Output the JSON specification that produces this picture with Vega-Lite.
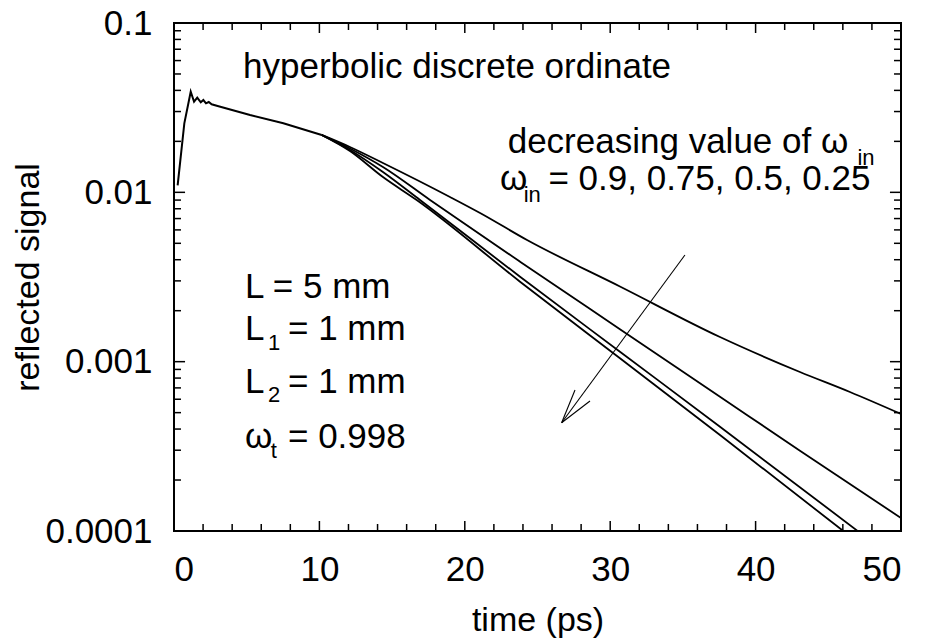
{
  "$schema": "https://vega.github.io/schema/vega-lite/v6.json",
  "width": 727,
  "height": 508,
  "autosize": {"type": "none"},
  "padding": {"left": 174, "top": 23, "right": 24, "bottom": 110},
  "background": "white",
  "config": {
    "view": {"stroke": "black", "strokeWidth": 2},
    "font": "Liberation Sans",
    "axis": {"domain": false, "grid": false, "labelColor": "black", "titleColor": "black", "labelFont": "Liberation Sans", "titleFont": "Liberation Sans", "labelFontSize": 35, "titleFontSize": 34, "titleFontWeight": "normal"}
  },
  "datasets": {
    "early": [
      {"t": 0.25, "v": 0.011},
      {"t": 0.71, "v": 0.02557},
      {"t": 1.15, "v": 0.03929},
      {"t": 1.38, "v": 0.03428},
      {"t": 1.60, "v": 0.03622},
      {"t": 1.84, "v": 0.03400},
      {"t": 2.02, "v": 0.03509},
      {"t": 2.20, "v": 0.03355},
      {"t": 2.39, "v": 0.03414},
      {"t": 2.59, "v": 0.03310},
      {"t": 3.0, "v": 0.03235},
      {"t": 5.23, "v": 0.02862},
      {"t": 7.52, "v": 0.02557},
      {"t": 10.16, "v": 0.02182}
    ],
    "curves": [
      {"series": "0.9", "t": 10.16, "v": 0.02182},
      {"series": "0.9", "t": 12.10, "v": 0.01852},
      {"series": "0.9", "t": 14.37, "v": 0.01490},
      {"series": "0.9", "t": 18.98, "v": 0.009385},
      {"series": "0.9", "t": 21.05, "v": 0.007549},
      {"series": "0.9", "t": 24.28, "v": 0.005231},
      {"series": "0.9", "t": 30.67, "v": 0.002779},
      {"series": "0.9", "t": 37.55, "v": 0.001398},
      {"series": "0.9", "t": 43.05, "v": 0.000869},
      {"series": "0.9", "t": 46.49, "v": 0.000662},
      {"series": "0.9", "t": 50.0, "v": 0.000491},
      {"series": "0.75", "t": 10.16, "v": 0.02182},
      {"series": "0.75", "t": 12.10, "v": 0.01815},
      {"series": "0.75", "t": 14.37, "v": 0.01411},
      {"series": "0.75", "t": 17.61, "v": 0.00901},
      {"series": "0.75", "t": 23.80, "v": 0.003893},
      {"series": "0.75", "t": 30.67, "v": 0.001555},
      {"series": "0.75", "t": 37.55, "v": 0.000621},
      {"series": "0.75", "t": 43.05, "v": 0.000298},
      {"series": "0.75", "t": 50.0, "v": 0.0001193},
      {"series": "0.5", "t": 10.16, "v": 0.02182},
      {"series": "0.5", "t": 12.10, "v": 0.01778},
      {"series": "0.5", "t": 14.37, "v": 0.01318},
      {"series": "0.5", "t": 16.92, "v": 0.00901},
      {"series": "0.5", "t": 23.80, "v": 0.003174},
      {"series": "0.5", "t": 30.67, "v": 0.001145},
      {"series": "0.5", "t": 37.55, "v": 0.000413},
      {"series": "0.5", "t": 47.02, "v": 0.0001},
      {"series": "0.25", "t": 10.16, "v": 0.02182},
      {"series": "0.25", "t": 12.10, "v": 0.01753},
      {"series": "0.25", "t": 14.37, "v": 0.01231},
      {"series": "0.25", "t": 16.69, "v": 0.00901},
      {"series": "0.25", "t": 23.80, "v": 0.002967},
      {"series": "0.25", "t": 30.67, "v": 0.001047},
      {"series": "0.25", "t": 37.55, "v": 0.000369},
      {"series": "0.25", "t": 46.03, "v": 0.0001}
    ],
    "ticks": [
      {"t": 2, "t2": 2, "v": 0.0001, "v2": 0.00011}, {"t": 4, "t2": 4, "v": 0.0001, "v2": 0.00011}, {"t": 6, "t2": 6, "v": 0.0001, "v2": 0.00011}, {"t": 8, "t2": 8, "v": 0.0001, "v2": 0.00011},
      {"t": 10, "t2": 10, "v": 0.0001, "v2": 0.0001146},
      {"t": 12, "t2": 12, "v": 0.0001, "v2": 0.00011}, {"t": 14, "t2": 14, "v": 0.0001, "v2": 0.00011}, {"t": 16, "t2": 16, "v": 0.0001, "v2": 0.00011}, {"t": 18, "t2": 18, "v": 0.0001, "v2": 0.00011},
      {"t": 20, "t2": 20, "v": 0.0001, "v2": 0.0001146},
      {"t": 22, "t2": 22, "v": 0.0001, "v2": 0.00011}, {"t": 24, "t2": 24, "v": 0.0001, "v2": 0.00011}, {"t": 26, "t2": 26, "v": 0.0001, "v2": 0.00011}, {"t": 28, "t2": 28, "v": 0.0001, "v2": 0.00011},
      {"t": 30, "t2": 30, "v": 0.0001, "v2": 0.0001146},
      {"t": 32, "t2": 32, "v": 0.0001, "v2": 0.00011}, {"t": 34, "t2": 34, "v": 0.0001, "v2": 0.00011}, {"t": 36, "t2": 36, "v": 0.0001, "v2": 0.00011}, {"t": 38, "t2": 38, "v": 0.0001, "v2": 0.00011},
      {"t": 40, "t2": 40, "v": 0.0001, "v2": 0.0001146},
      {"t": 42, "t2": 42, "v": 0.0001, "v2": 0.00011}, {"t": 44, "t2": 44, "v": 0.0001, "v2": 0.00011}, {"t": 46, "t2": 46, "v": 0.0001, "v2": 0.00011}, {"t": 48, "t2": 48, "v": 0.0001, "v2": 0.00011},
      {"t": 2, "t2": 2, "v": 0.1, "v2": 0.0909}, {"t": 4, "t2": 4, "v": 0.1, "v2": 0.0909}, {"t": 6, "t2": 6, "v": 0.1, "v2": 0.0909}, {"t": 8, "t2": 8, "v": 0.1, "v2": 0.0909},
      {"t": 10, "t2": 10, "v": 0.1, "v2": 0.0873},
      {"t": 12, "t2": 12, "v": 0.1, "v2": 0.0909}, {"t": 14, "t2": 14, "v": 0.1, "v2": 0.0909}, {"t": 16, "t2": 16, "v": 0.1, "v2": 0.0909}, {"t": 18, "t2": 18, "v": 0.1, "v2": 0.0909},
      {"t": 20, "t2": 20, "v": 0.1, "v2": 0.0873},
      {"t": 22, "t2": 22, "v": 0.1, "v2": 0.0909}, {"t": 24, "t2": 24, "v": 0.1, "v2": 0.0909}, {"t": 26, "t2": 26, "v": 0.1, "v2": 0.0909}, {"t": 28, "t2": 28, "v": 0.1, "v2": 0.0909},
      {"t": 30, "t2": 30, "v": 0.1, "v2": 0.0873},
      {"t": 32, "t2": 32, "v": 0.1, "v2": 0.0909}, {"t": 34, "t2": 34, "v": 0.1, "v2": 0.0909}, {"t": 36, "t2": 36, "v": 0.1, "v2": 0.0909}, {"t": 38, "t2": 38, "v": 0.1, "v2": 0.0909},
      {"t": 40, "t2": 40, "v": 0.1, "v2": 0.0873},
      {"t": 42, "t2": 42, "v": 0.1, "v2": 0.0909}, {"t": 44, "t2": 44, "v": 0.1, "v2": 0.0909}, {"t": 46, "t2": 46, "v": 0.1, "v2": 0.0909}, {"t": 48, "t2": 48, "v": 0.1, "v2": 0.0909},
      {"t": 0, "t2": 0.48, "v": 0.0002, "v2": 0.0002}, {"t": 0, "t2": 0.48, "v": 0.0003, "v2": 0.0003}, {"t": 0, "t2": 0.48, "v": 0.0004, "v2": 0.0004}, {"t": 0, "t2": 0.48, "v": 0.0005, "v2": 0.0005},
      {"t": 0, "t2": 0.48, "v": 0.0006, "v2": 0.0006}, {"t": 0, "t2": 0.48, "v": 0.0007, "v2": 0.0007}, {"t": 0, "t2": 0.48, "v": 0.0008, "v2": 0.0008}, {"t": 0, "t2": 0.48, "v": 0.0009, "v2": 0.0009},
      {"t": 0, "t2": 0.76, "v": 0.001, "v2": 0.001},
      {"t": 0, "t2": 0.48, "v": 0.002, "v2": 0.002}, {"t": 0, "t2": 0.48, "v": 0.003, "v2": 0.003}, {"t": 0, "t2": 0.48, "v": 0.004, "v2": 0.004}, {"t": 0, "t2": 0.48, "v": 0.005, "v2": 0.005},
      {"t": 0, "t2": 0.48, "v": 0.006, "v2": 0.006}, {"t": 0, "t2": 0.48, "v": 0.007, "v2": 0.007}, {"t": 0, "t2": 0.48, "v": 0.008, "v2": 0.008}, {"t": 0, "t2": 0.48, "v": 0.009, "v2": 0.009},
      {"t": 0, "t2": 0.76, "v": 0.01, "v2": 0.01},
      {"t": 0, "t2": 0.48, "v": 0.02, "v2": 0.02}, {"t": 0, "t2": 0.48, "v": 0.03, "v2": 0.03}, {"t": 0, "t2": 0.48, "v": 0.04, "v2": 0.04}, {"t": 0, "t2": 0.48, "v": 0.05, "v2": 0.05},
      {"t": 0, "t2": 0.48, "v": 0.06, "v2": 0.06}, {"t": 0, "t2": 0.48, "v": 0.07, "v2": 0.07}, {"t": 0, "t2": 0.48, "v": 0.08, "v2": 0.08}, {"t": 0, "t2": 0.48, "v": 0.09, "v2": 0.09},
      {"t": 50, "t2": 49.52, "v": 0.0002, "v2": 0.0002}, {"t": 50, "t2": 49.52, "v": 0.0003, "v2": 0.0003}, {"t": 50, "t2": 49.52, "v": 0.0004, "v2": 0.0004}, {"t": 50, "t2": 49.52, "v": 0.0005, "v2": 0.0005},
      {"t": 50, "t2": 49.52, "v": 0.0006, "v2": 0.0006}, {"t": 50, "t2": 49.52, "v": 0.0007, "v2": 0.0007}, {"t": 50, "t2": 49.52, "v": 0.0008, "v2": 0.0008}, {"t": 50, "t2": 49.52, "v": 0.0009, "v2": 0.0009},
      {"t": 50, "t2": 49.24, "v": 0.001, "v2": 0.001},
      {"t": 50, "t2": 49.52, "v": 0.002, "v2": 0.002}, {"t": 50, "t2": 49.52, "v": 0.003, "v2": 0.003}, {"t": 50, "t2": 49.52, "v": 0.004, "v2": 0.004}, {"t": 50, "t2": 49.52, "v": 0.005, "v2": 0.005},
      {"t": 50, "t2": 49.52, "v": 0.006, "v2": 0.006}, {"t": 50, "t2": 49.52, "v": 0.007, "v2": 0.007}, {"t": 50, "t2": 49.52, "v": 0.008, "v2": 0.008}, {"t": 50, "t2": 49.52, "v": 0.009, "v2": 0.009},
      {"t": 50, "t2": 49.24, "v": 0.01, "v2": 0.01},
      {"t": 50, "t2": 49.52, "v": 0.02, "v2": 0.02}, {"t": 50, "t2": 49.52, "v": 0.03, "v2": 0.03}, {"t": 50, "t2": 49.52, "v": 0.04, "v2": 0.04}, {"t": 50, "t2": 49.52, "v": 0.05, "v2": 0.05},
      {"t": 50, "t2": 49.52, "v": 0.06, "v2": 0.06}, {"t": 50, "t2": 49.52, "v": 0.07, "v2": 0.07}, {"t": 50, "t2": 49.52, "v": 0.08, "v2": 0.08}, {"t": 50, "t2": 49.52, "v": 0.09, "v2": 0.09}
    ],
    "labels": [
      {"t": 4.75, "v": 0.04714, "text": "hyperbolic discrete ordinate"},
      {"t": 22.95, "v": 0.0170, "text": "decreasing value of ω"},
      {"t": 22.42, "v": 0.01032, "text": "ω"},
      {"t": 25.75, "v": 0.01032, "text": "= 0.9, 0.75, 0.5, 0.25"},
      {"t": 4.88, "v": 0.002377, "text": "L = 5 mm"},
      {"t": 4.88, "v": 0.001342, "text": "L"},
      {"t": 7.84, "v": 0.001342, "text": "= 1 mm"},
      {"t": 4.88, "v": 0.000653, "text": "L"},
      {"t": 7.84, "v": 0.000653, "text": "= 1 mm"},
      {"t": 4.88, "v": 0.000309, "text": "ω"},
      {"t": 7.84, "v": 0.000309, "text": "= 0.998"}
    ],
    "subscripts": [
      {"t": 47.0, "v": 0.0145, "text": "in"},
      {"t": 24.05, "v": 0.008806, "text": "in"},
      {"t": 6.46, "v": 0.001172, "text": "1"},
      {"t": 6.46, "v": 0.00058, "text": "2"},
      {"t": 6.65, "v": 0.00027, "text": "t"}
    ],
    "arrow": [
      {"t": 35.14, "v": 0.004265, "t2": 26.66, "v2": 0.000436},
      {"t": 27.58, "v": 0.00068, "t2": 26.66, "v2": 0.000436},
      {"t": 28.61, "v": 0.000586, "t2": 26.66, "v2": 0.000436}
    ]
  },
  "layer": [
    {
      "data": {"name": "curves"},
      "mark": {"type": "line", "color": "black", "strokeWidth": 1.8, "clip": true, "interpolate": "monotone"},
      "encoding": {
        "x": {"field": "t", "type": "quantitative", "scale": {"domain": [0, 50], "nice": false},
          "axis": {"orient": "bottom", "values": [0, 10, 20, 30, 40, 50], "ticks": false,
            "labelPadding": 49, "labelBaseline": "alphabetic",
            "title": "time (ps)", "titleY": 99, "titleBaseline": "alphabetic"}},
        "y": {"field": "v", "type": "quantitative", "scale": {"type": "log", "domain": [0.0001, 0.1], "nice": false},
          "axis": {"orient": "left", "values": [0.0001, 0.001, 0.01, 0.1], "format": "~g", "ticks": false,
            "labelPadding": 22, "labelBaseline": "middle",
            "title": "reflected signal", "titleX": -136, "titleY": 254, "titleBaseline": "alphabetic", "titleAlign": "center", "titleAngle": -90}},
        "detail": {"field": "series"}
      }
    },
    {
      "data": {"name": "early"},
      "mark": {"type": "line", "color": "black", "strokeWidth": 2, "clip": true},
      "encoding": {
        "x": {"field": "t", "type": "quantitative"},
        "y": {"field": "v", "type": "quantitative"}
      }
    },
    {
      "data": {"name": "ticks"},
      "mark": {"type": "rule", "color": "black", "strokeWidth": 1.5},
      "encoding": {
        "x": {"field": "t", "type": "quantitative"},
        "y": {"field": "v", "type": "quantitative"},
        "x2": {"field": "t2"},
        "y2": {"field": "v2"}
      }
    },
    {
      "data": {"name": "arrow"},
      "mark": {"type": "rule", "color": "black", "strokeWidth": 1.1},
      "encoding": {
        "x": {"field": "t", "type": "quantitative"},
        "y": {"field": "v", "type": "quantitative"},
        "x2": {"field": "t2"},
        "y2": {"field": "v2"}
      }
    },
    {
      "data": {"name": "labels"},
      "mark": {"type": "text", "align": "left", "baseline": "alphabetic", "fontSize": 35, "font": "Liberation Sans", "color": "black"},
      "encoding": {
        "x": {"field": "t", "type": "quantitative"},
        "y": {"field": "v", "type": "quantitative"},
        "text": {"field": "text"}
      }
    },
    {
      "data": {"name": "subscripts"},
      "mark": {"type": "text", "align": "left", "baseline": "alphabetic", "fontSize": 22, "font": "Liberation Sans", "color": "black"},
      "encoding": {
        "x": {"field": "t", "type": "quantitative"},
        "y": {"field": "v", "type": "quantitative"},
        "text": {"field": "text"}
      }
    }
  ]
}
